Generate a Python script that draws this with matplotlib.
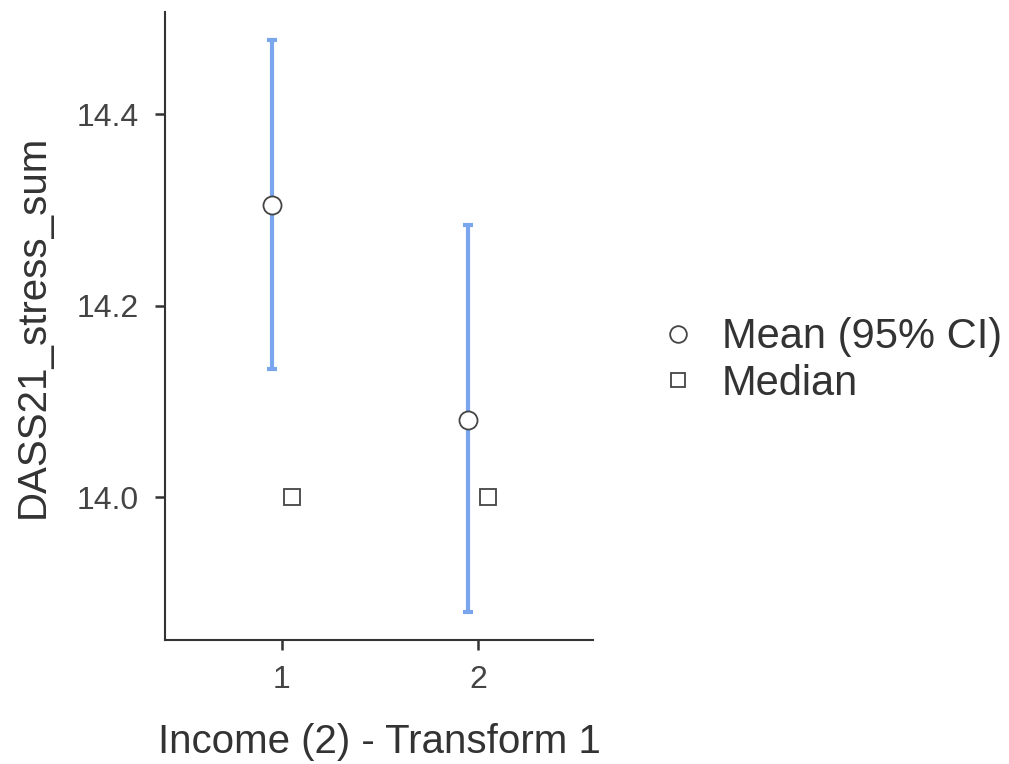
import matplotlib
matplotlib.use("Agg")
import matplotlib.pyplot as plt
from matplotlib.lines import Line2D

plt.rcParams['font.family'] = ['Liberation Sans', 'DejaVu Sans']

groups = [1, 2]
means = [14.305, 14.081]
ci_low = [14.134, 13.880]
ci_high = [14.477, 14.284]
medians = [14.0, 14.0]
yticks = [14.0, 14.2, 14.4]

fig = plt.figure(figsize=(10.09, 7.64), dpi=100)
ax = fig.add_axes([0.1635, 0.1623, 0.4242, 0.822])

offset = 0.05
xm = [g - offset for g in groups]
xd = [g + offset for g in groups]
err = [[m - l for m, l in zip(means, ci_low)], [h - m for m, h in zip(means, ci_high)]]

ax.errorbar(xm, means, yerr=err, fmt='none', ecolor='#7aa6ee', elinewidth=3, capsize=3.5, capthick=3, zorder=2)
ax.plot(xm, means, 'o', ms=13, mfc='white', mec='#444444', mew=1.3, zorder=3)
ax.plot(xd, medians, 's', ms=11, mfc='white', mec='#444444', mew=1.3, zorder=3)

ax.set_xlim(0.403, 2.587)
ax.set_ylim(13.851, 14.5065)
ax.set_xticks(groups)
ax.set_xticklabels([str(g) for g in groups])
ax.set_yticks(yticks)
ax.set_yticklabels([f"{t:.1f}" for t in yticks])

for s in ['top', 'right']:
    ax.spines[s].set_visible(False)
for s in ['left', 'bottom']:
    ax.spines[s].set_linewidth(1.5)
    ax.spines[s].set_color('#333333')
ax.tick_params(axis='both', length=7, width=1.8, color='#333333', labelsize=23, labelcolor='#444444')
ax.tick_params(axis='y', pad=12)
ax.tick_params(axis='x', pad=11)

ax.set_xlabel('Income (2) - Transform 1', fontsize=29, color='#333333', labelpad=20)
ax.set_ylabel('DASS21_stress_sum', fontsize=29, color='#333333', labelpad=18)

handles = [
    Line2D([], [], marker='o', ls='none', ms=12, mfc='white', mec='#444444', mew=1.3),
    Line2D([], [], marker='s', ls='none', ms=10, mfc='white', mec='#444444', mew=1.3),
]
leg = fig.legend(handles, ['Mean (95% CI)', 'Median'], loc='center left', bbox_to_anchor=(0.643, 0.528),
                 frameon=False, fontsize=30, handlelength=0.6, handletextpad=0.75, labelspacing=0.15,
                 borderaxespad=0)
for t in leg.get_texts():
    t.set_color('#333333')

fig.savefig('out.png', dpi=100)
